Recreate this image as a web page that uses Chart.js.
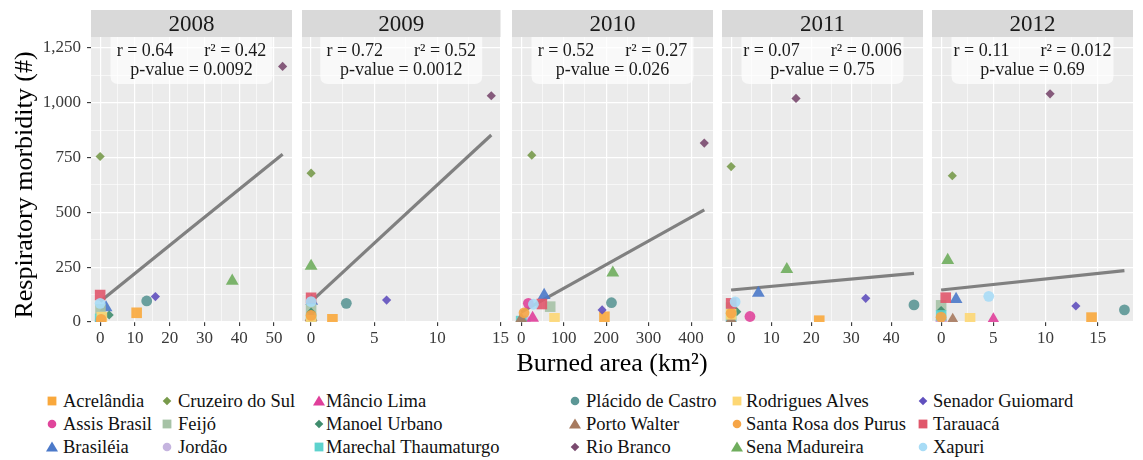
<!DOCTYPE html>
<html>
<head>
<meta charset="utf-8">
<script src="https://cdn.jsdelivr.net/npm/chart.js@4.4.1/dist/chart.umd.min.js"></script>
<style>
body { margin: 0; background: #fff; }
#wrap { position: relative; width: 1143px; height: 460px; overflow: hidden; font-family: 'Liberation Serif', serif; color: #000; }
#wrap canvas { position: absolute; top: 0; }
.axis-title { position: absolute; font-size: 26px; line-height: 30px; text-align: center; white-space: nowrap; }
.leg-item { position: absolute; font-size: 18.5px; line-height: 22px; white-space: nowrap; color: #111; }
.leg-key { position: absolute; width: 14px; height: 14px; }
</style>
</head>
<body>
<div id="wrap"></div>
<script>
// facets
const years = ['2008', '2009', '2010', '2011', '2012'];

const municipalities = [
    'Acrelândia', 'Assis Brasil', 'Brasiléia', 'Cruzeiro do Sul', 'Feijó', 'Jordão',
    'Mâncio Lima', 'Manoel Urbano', 'Marechal Thaumaturgo', 'Plácido de Castro', 'Porto Walter', 'Rio Branco',
    'Rodrigues Alves', 'Santa Rosa dos Purus', 'Sena Madureira', 'Senador Guiomard', 'Tarauacá', 'Xapuri'
];

// burned area (km²) and respiratory morbidity (#), same order as municipalities
const area2008 = [10.5, 0.2, 1.7, 0, 0.1, 0, 0.1, 2.6, 0, 13.4, 0, 52.5, 0.5, 0.3, 38.0, 15.9, 0, 0];
const resp2008 = [42, 8, 66, 755, 58, 6, 3, 32, 14, 96, 3, 1166, 22, 12, 187, 116, 123, 85];

const area2009 = [1.69, 0, 0.05, 0, 0, 0, 0, 0, 0, 2.79, 0, 14.27, 0, 0, 0, 5.98, 0, 0];
const resp2009 = [12, 2, 95, 679, 58, 10, 3, 45, 15, 85, 22, 1032, 8, 30, 255, 100, 110, 93];

const area2010 = [196, 17, 54.2, 25, 68.4, 10, 27, 3, 0, 212.6, 0, 431, 78.5, 6.9, 215.7, 190.6, 48.7, 28.9];
const resp2010 = [24, 85, 122, 761, 70, 6, 18, 8, 4, 88, 12, 816, 17, 42, 224, 55, 82, 81];

const area2011 = [22, 4.7, 6.8, 0, 0, 0, 0, 1.4, 0, 45.65, 0, 16.2, 0, 0, 13.9, 33.6, 0, 1.0];
const resp2011 = [6, 25, 132, 709, 65, 5, 3, 47, 20, 78, 8, 1020, 35, 40, 240, 108, 85, 92];

const area2012 = [14.4, 0, 1.43, 1.07, 0, 0, 5.0, 0, 0, 17.55, 1.11, 10.43, 2.77, 0, 0.63, 12.9, 0.44, 4.56];
const resp2012 = [20, 5, 104, 667, 76, 8, 11, 52, 30, 55, 9, 1041, 17, 22, 282, 73, 111, 117];

const areaByYear = [area2008, area2009, area2010, area2011, area2012];
const respByYear = [resp2008, resp2009, resp2010, resp2011, resp2012];

// linear fit ends [x, y]
const fitStart = [[0, 93], [0, 93], [0, 45], [0, 146], [0, 146]];
const fitEnd = [[52.5, 765], [14.27, 853], [431, 511], [45.65, 222], [17.55, 234]];

// correlation stats
const rValues = ['0.64', '0.72', '0.52', '0.07', '0.11'];
const r2Values = ['0.42', '0.52', '0.27', '0.006', '0.012'];
const pValues = ['0.0092', '0.0012', '0.026', '0.75', '0.69'];

// axes
const xTicks = [[0, 10, 20, 30, 40, 50], [0, 5, 10, 15], [0, 100, 200, 300, 400], [0, 10, 20, 30, 40], [0, 5, 10, 15]];
const xLimits = [[-2.63, 55.2], [-0.72, 15.0], [-21.5, 451.5], [-2.28, 47.9], [-0.875, 18.37]];
const yTicks = [0, 250, 500, 750, 1000, 1250];
const yLimits = [0, 1300];

// marker styles
const markerShape = ['rect', 'circle', 'triangle', 'rectRot', 'rect', 'circle',
    'triangle', 'rectRot', 'rect', 'circle', 'triangle', 'rectRot',
    'rect', 'circle', 'triangle', 'rectRot', 'rect', 'circle'];
const markerColor = ['#F9A83C', '#E0459B', '#4B79C9', '#789A4B', '#A6C2A6', '#C5B4DF',
    '#E03F9A', '#3F8C6D', '#5DD2CD', '#5C9796', '#A77A5F', '#7A4A6F',
    '#FDD774', '#F6A546', '#6FAD5D', '#6050BE', '#E0576B', '#A8DCF6'];
const shapeRadius = { rect: 7.5, circle: 5.4, triangle: 7.4, rectRot: 4.6 };

const panelLeft = [91, 302, 512, 722, 932];
const panelWidth = 201;
const panelTop = 37;
const panelBottom = 322;
const canvasHeight = 350;
const pad = 8;

Chart.defaults.font.family = "'Liberation Serif', serif";
Chart.defaults.color = '#3a3a3a';

function withMinor(major) {
    const out = [];
    major.forEach((v, k) => {
        out.push(v);
        if (k < major.length - 1) out.push((v + major[k + 1]) / 2);
    });
    return out;
}

// grey panel, strip on top and the stats label
const facetPlugin = {
    id: 'facet',
    beforeDraw(chart, args, opts) {
        const { ctx, chartArea: a } = chart;
        ctx.save();
        ctx.fillStyle = '#EBEBEB';
        ctx.fillRect(a.left, a.top, a.right - a.left, a.bottom - a.top);
        ctx.fillStyle = '#D9D9D9';
        ctx.fillRect(a.left, 10, a.right - a.left, a.top - 10);
        ctx.fillStyle = '#1A1A1A';
        ctx.font = "23px 'Liberation Serif'";
        ctx.textAlign = 'center';
        ctx.textBaseline = 'middle';
        ctx.fillText(opts.year, (a.left + a.right) / 2, 24.5);
        ctx.restore();
    },
    beforeDatasetsDraw(chart, args, opts) {
        const { ctx, chartArea: a } = chart;
        const cx = (a.left + a.right) / 2;
        const w = 162, x0 = cx - w / 2, x1 = cx + w / 2, y0 = a.top, y1 = 84, rad = 8;
        ctx.save();
        ctx.fillStyle = 'rgba(255,255,255,0.7)';
        ctx.beginPath();
        ctx.moveTo(x0, y0);
        ctx.lineTo(x1, y0);
        ctx.lineTo(x1, y1 - rad);
        ctx.quadraticCurveTo(x1, y1, x1 - rad, y1);
        ctx.lineTo(x0 + rad, y1);
        ctx.quadraticCurveTo(x0, y1, x0, y1 - rad);
        ctx.closePath();
        ctx.fill();

        ctx.fillStyle = '#1A1A1A';
        ctx.font = "18px 'Liberation Serif'";
        ctx.textBaseline = 'middle';
        const left = 'r = ' + opts.r;
        const right = 'r² = ' + opts.r2;
        const gap = 31;
        const wl = ctx.measureText(left).width;
        const wr = ctx.measureText(right).width;
        const sx = cx - (wl + gap + wr) / 2;
        ctx.textAlign = 'left';
        ctx.fillText(left, sx, 51);
        ctx.fillText(right, sx + wl + gap, 51);
        ctx.textAlign = 'center';
        ctx.fillText('p-value = ' + opts.p, cx, 70.5);
        ctx.restore();
    }
};

const wrap = document.getElementById('wrap');

years.forEach((year, i) => {
    const first = i === 0;
    const canvas = document.createElement('canvas');
    const left = first ? 0 : panelLeft[i] - pad;
    const width = first ? panelLeft[0] + panelWidth + pad : panelWidth + 2 * pad;
    canvas.width = width;
    canvas.height = canvasHeight;
    canvas.style.left = left + 'px';
    canvas.style.width = width + 'px';
    canvas.style.height = canvasHeight + 'px';
    wrap.appendChild(canvas);

    const areas = areaByYear[i];
    const resp = respByYear[i];
    const points = areas.map((x, k) => ({ x: x, y: resp[k] }));
    const majorX = xTicks[i];

    new Chart(canvas, {
        type: 'scatter',
        data: {
            datasets: [{
                label: year,
                data: points,
                pointStyle: markerShape,
                pointRadius: markerShape.map(s => shapeRadius[s]),
                pointBackgroundColor: markerColor.map(c => c + 'E6'),
                pointBorderWidth: 0,
                clip: 0,
                order: 0
            }, {
                label: 'fit',
                data: [{ x: fitStart[i][0], y: fitStart[i][1] }, { x: fitEnd[i][0], y: fitEnd[i][1] }],
                showLine: true,
                borderColor: '#808080',
                borderWidth: 3.2,
                pointRadius: 0,
                clip: 0,
                order: 1
            }]
        },
        options: {
            responsive: false,
            animation: false,
            events: [],
            layout: {
                autoPadding: false,
                padding: { top: panelTop, left: first ? 0 : pad, right: pad, bottom: 0 }
            },
            plugins: {
                legend: { display: false },
                tooltip: { enabled: false },
                facet: { year: year, r: rValues[i], r2: r2Values[i], p: pValues[i] }
            },
            scales: {
                x: {
                    type: 'linear',
                    position: 'bottom',
                    min: xLimits[i][0],
                    max: xLimits[i][1],
                    afterBuildTicks: s => { s.ticks = withMinor(majorX).map(v => ({ value: v })); },
                    afterFit: s => { s.height = canvasHeight - panelBottom; },
                    border: { display: false },
                    grid: {
                        color: '#fff',
                        lineWidth: c => (c.tick && majorX.includes(c.tick.value)) ? 1.2 : 0.6,
                        tickLength: 4,
                        tickWidth: 1.1,
                        tickColor: c => (c.tick && majorX.includes(c.tick.value)) ? '#333' : 'rgba(0,0,0,0)'
                    },
                    ticks: {
                        padding: 2,
                        maxRotation: 0,
                        autoSkip: false,
                        font: { size: 17 },
                        callback: v => majorX.includes(v) ? String(v) : ''
                    }
                },
                y: {
                    type: 'linear',
                    min: yLimits[0],
                    max: yLimits[1],
                    afterBuildTicks: s => { s.ticks = withMinor(yTicks).map(v => ({ value: v })); },
                    afterFit: s => { s.width = first ? panelLeft[0] : 0; },
                    border: { display: false },
                    grid: {
                        color: '#fff',
                        lineWidth: c => (c.tick && yTicks.includes(c.tick.value)) ? 1.2 : 0.6,
                        drawTicks: first,
                        tickLength: 4,
                        tickWidth: 1.1,
                        tickColor: c => (c.tick && yTicks.includes(c.tick.value)) ? '#333' : 'rgba(0,0,0,0)'
                    },
                    ticks: {
                        display: first,
                        padding: 6,
                        font: { size: 17 },
                        callback: v => yTicks.includes(v) ? v.toLocaleString('en-US') : ''
                    }
                }
            }
        },
        plugins: [facetPlugin]
    });
});

// axis titles
const yTitle = document.createElement('div');
yTitle.className = 'axis-title';
yTitle.textContent = 'Respiratory morbidity (#)';
yTitle.style.width = '320px';
yTitle.style.left = (23.5 - 160) + 'px';
yTitle.style.top = (185 - 15) + 'px';
yTitle.style.transform = 'rotate(-90deg)';
wrap.appendChild(yTitle);

const xTitle = document.createElement('div');
xTitle.className = 'axis-title';
xTitle.textContent = 'Burned area (km²)';
xTitle.style.width = '400px';
xTitle.style.left = (612 - 200) + 'px';
xTitle.style.top = (363 - 15) + 'px';
wrap.appendChild(xTitle);

// legend, filled column by column
const legendKeyX = [52, 167, 319, 575, 737, 922.5];
const legendTextX = [63, 178, 326, 586, 746, 933];
const legendRowY = [400.5, 423.5, 446.5];

function keySvg(shape, color) {
    let body;
    if (shape === 'rect') body = `<rect x="2.6" y="2.6" width="8.8" height="8.8" fill="${color}"/>`;
    else if (shape === 'circle') body = `<circle cx="7" cy="7" r="4.3" fill="${color}"/>`;
    else if (shape === 'triangle') body = `<polygon points="7,1.6 13,11.6 1,11.6" fill="${color}"/>`;
    else body = `<polygon points="7,2.7 11.3,7 7,11.3 2.7,7" fill="${color}"/>`;
    return `<svg width="14" height="14" viewBox="0 0 14 14">${body}</svg>`;
}

municipalities.forEach((name, k) => {
    const col = Math.floor(k / 3);
    const row = k % 3;
    const key = document.createElement('div');
    key.className = 'leg-key';
    key.style.left = (legendKeyX[col] - 7) + 'px';
    key.style.top = (legendRowY[row] - 7) + 'px';
    key.innerHTML = keySvg(markerShape[k], markerColor[k]);
    wrap.appendChild(key);

    const label = document.createElement('div');
    label.className = 'leg-item';
    label.textContent = name;
    label.style.left = legendTextX[col] + 'px';
    label.style.top = (legendRowY[row] - 11) + 'px';
    wrap.appendChild(label);
});
</script>
</body>
</html>
